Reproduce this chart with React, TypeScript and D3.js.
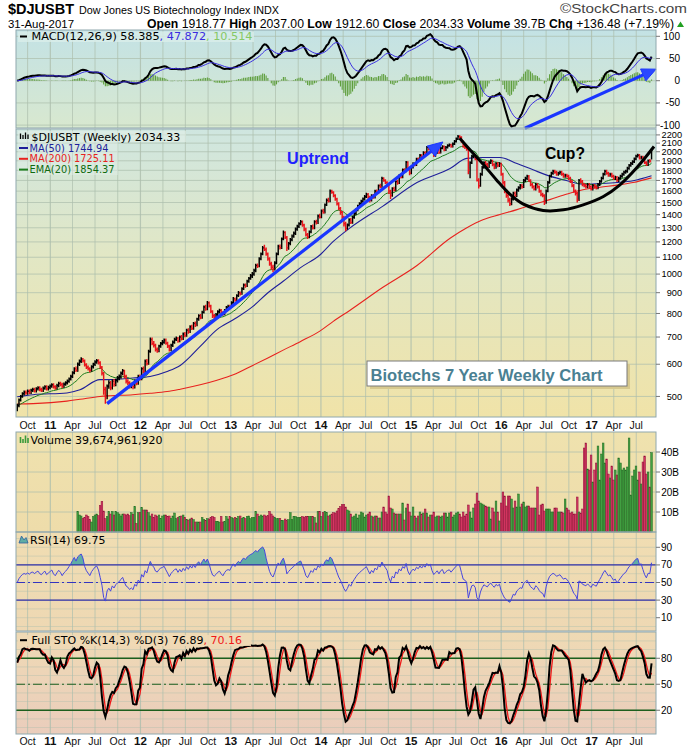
import React from "react";
import * as d3 from "d3";

// ---------------- DATA ----------------
const firstWeek = "2010-08-20"; // weekly bars, one per Friday

const weeklyClose = [475,490,500,508,512,510,
515,512,518,520,516,522,525,520,518,524,528,522,526,
530,534,528,525,532,538,535,530,536,540,545,552,560,
572,585,580,600,610,618,612,598,590,585,580,592,600,
608,612,605,590,570,520,498,530,540,525,545,535,548,
555,560,570,578,560,545,540,530,535,528,545,538,560,
552,585,576,610,602,645,690,675,668,652,648,665,675,
680,688,676,665,652,668,680,690,695,684,700,692,712,
705,728,720,742,735,756,748,775,790,781,805,830,820,
850,835,810,790,785,795,808,815,805,798,815,828,832,
830,850,870,862,885,900,895,920,940,935,960,975,990,
1000,1020,1050,1045,1090,1120,1160,1150,1120,1090,1060,1040,1030,
1065,1120,1170,1160,1220,1265,1230,1160,1190,1215,1240,1260,1290,
1310,1330,1345,1320,1290,1250,1235,1270,1310,1298,1345,1335,1390,
1380,1430,1418,1480,1520,1510,1600,1590,1560,1530,1490,1450,1420,
1380,1330,1295,1320,1360,1340,1380,1410,1440,1470,1490,1510,1530,
1550,1570,1545,1520,1560,1545,1600,1588,1650,1640,1720,1700,1680,
1660,1600,1560,1625,1608,1690,1672,1748,1730,1805,1790,1885,1810,
1770,1830,1870,1855,1920,1905,1960,1940,1990,1975,2050,2030,2060,
2000,1960,1990,2020,1990,2040,2060,2020,2050,2070,2080,2060,2090,
2120,2150,2180,2170,2120,2060,2050,2030,1800,1880,1950,1960,1920,
1700,1650,1760,1830,1880,1860,1840,1880,1900,1860,1830,1870,1850,
1870,1760,1680,1600,1560,1520,1490,1530,1580,1560,1610,1630,1650,
1640,1700,1720,1740,1700,1660,1640,1620,1660,1640,1600,1570,1560,
1500,1600,1680,1740,1770,1790,1780,1760,1770,1780,1760,1740,1750,
1740,1720,1690,1650,1600,1580,1520,1700,1690,1660,1650,1640,1660,
1640,1620,1650,1640,1630,1660,1690,1720,1760,1790,1770,1750,1760,
1740,1720,1730,1700,1720,1740,1760,1780,1790,1820,1850,1870,1890,
1920,1950,1960,1930,1940,1910,1880,1860,1900,1898,2034];

const weeklyHigh = [480,494,504,512,517,517,
520,520,522,525,525,527,530,530,525,529,533,533,531,
535,539,539,533,537,543,543,540,541,545,550,557,565,
577,590,592,606,616,624,622,616,603,596,590,597,605,
614,618,617,610,594,574,528,535,548,546,550,552,553,
561,566,576,584,582,565,551,545,540,540,550,551,565,
566,590,592,616,618,651,698,698,684,674,660,670,681,
688,694,694,682,670,674,686,697,702,700,706,708,718,
720,734,736,748,750,762,764,781,797,798,812,837,840,
858,856,840,815,798,802,815,822,820,810,820,835,840,
840,857,878,876,892,908,906,928,948,948,968,984,1000,
1012,1030,1060,1062,1100,1130,1172,1180,1162,1130,1100,1072,1055,
1075,1130,1180,1182,1230,1280,1275,1240,1200,1226,1252,1272,1302,
1322,1342,1358,1355,1330,1300,1262,1280,1320,1325,1356,1360,1402,
1408,1442,1448,1492,1534,1540,1615,1612,1600,1572,1540,1502,1462,
1430,1392,1345,1332,1372,1375,1392,1422,1452,1482,1503,1523,1544,
1565,1585,1582,1558,1572,1575,1612,1615,1662,1668,1735,1732,1712,
1692,1670,1612,1636,1640,1700,1706,1760,1765,1818,1822,1898,1895,
1822,1842,1885,1884,1934,1936,1975,1972,2005,2006,2065,2066,2075,
2070,2012,2005,2036,2032,2055,2076,2072,2066,2086,2096,2094,2106,
2138,2168,2200,2196,2182,2132,2078,2066,2040,1895,1965,1985,1975,
1930,1720,1775,1846,1896,1898,1878,1896,1916,1912,1875,1885,1886,
1885,1880,1775,1695,1620,1580,1540,1545,1595,1596,1625,1645,1665,
1665,1715,1736,1755,1752,1712,1675,1655,1675,1675,1652,1612,1585,
1572,1615,1695,1755,1786,1806,1805,1795,1786,1796,1795,1775,1765,
1765,1755,1735,1705,1665,1615,1592,1715,1720,1705,1676,1665,1675,
1675,1655,1665,1665,1655,1675,1705,1735,1775,1806,1805,1785,1775,
1775,1755,1746,1742,1735,1755,1776,1796,1806,1836,1866,1886,1906,
1936,1966,1978,1975,1956,1955,1925,1895,1915,1920,2037];

const weeklyLow = [460,470,486,496,503,505,
505,507,507,513,511,511,517,515,513,513,519,517,517,
521,525,523,519,520,527,530,524,525,531,535,540,547,
555,567,574,575,594,604,606,592,584,579,573,575,586,
594,602,599,584,563,505,480,492,522,518,520,528,530,
541,548,553,564,554,538,533,523,524,521,523,533,534,
547,548,570,572,596,598,640,668,660,645,640,642,659,
668,674,670,658,645,646,662,674,684,678,680,686,688,
699,701,713,716,728,730,741,744,768,774,776,800,812,
815,828,802,780,775,778,788,800,798,790,792,808,820,
820,825,843,855,856,878,886,890,914,926,930,952,968,
978,990,1010,1035,1040,1082,1112,1140,1110,1078,1048,1025,1010,
1020,1058,1112,1150,1152,1212,1220,1140,1148,1178,1205,1228,1248,
1278,1298,1318,1308,1275,1238,1220,1225,1260,1288,1290,1325,1328,
1370,1372,1408,1410,1470,1500,1502,1576,1545,1515,1475,1435,1400,
1360,1310,1275,1285,1310,1328,1330,1368,1398,1428,1458,1478,1498,
1518,1538,1532,1500,1508,1532,1535,1575,1578,1626,1630,1688,1665,
1640,1575,1530,1550,1596,1600,1660,1665,1718,1722,1778,1780,1795,
1750,1760,1818,1842,1845,1892,1895,1926,1930,1960,1965,2015,2020,
1982,1940,1945,1978,1975,1980,2028,2005,2008,2038,2058,2045,2048,
2078,2108,2138,2152,2105,2045,2032,2012,1760,1720,1865,1930,1905,
1690,1625,1640,1745,1815,1842,1822,1825,1865,1842,1810,1815,1832,
1835,1745,1660,1580,1540,1500,1470,1478,1518,1545,1548,1595,1615,
1622,1628,1685,1705,1685,1645,1625,1605,1605,1625,1585,1555,1545,
1480,1490,1590,1668,1728,1756,1765,1745,1745,1756,1745,1725,1726,
1725,1705,1675,1635,1585,1560,1500,1512,1672,1645,1635,1625,1626,
1625,1605,1606,1625,1615,1618,1648,1678,1708,1748,1755,1735,1736,
1725,1705,1705,1685,1686,1706,1726,1746,1766,1776,1806,1836,1856,
1876,1905,1936,1915,1915,1895,1865,1845,1846,1880,1913];

// weekly volume in billions; the series begins with week #35 (Apr 2011)
const volumeFirstWeek = 35;
const weeklyVolumeB = [10.3,8.5,8.0,6.7,7.3,8.5,7.8,6.2,5.0,7.8,8.5,9.0,8.2,
13.3,15.3,10.5,6.7,7.8,10.3,9.0,10.3,8.5,10.3,9.7,9.0,8.0,
9.0,9.0,8.5,9.0,8.2,9.7,8.8,12.8,4.3,9.7,9.7,12.3,11.0,
11.0,11.0,9.7,8.0,9.0,7.3,8.5,7.8,8.5,6.7,8.0,8.5,8.5,
7.8,8.0,6.7,8.0,9.5,6.7,7.3,7.8,8.0,8.5,7.3,6.2,6.0,
6.5,7.0,6.2,5.0,5.0,5.0,5.0,7.3,6.2,5.7,6.7,6.5,7.3,
7.8,7.3,5.3,5.3,5.0,7.8,5.0,5.3,7.8,6.5,7.8,7.3,6.7,
7.3,6.7,7.8,8.0,6.7,7.3,6.7,7.8,8.0,6.7,7.3,7.3,10.3,
9.0,7.8,8.5,8.0,8.5,7.8,8.2,10.3,9.0,8.0,7.3,6.7,6.7,
6.7,5.7,5.7,6.5,5.7,6.2,9.7,6.2,7.8,7.8,7.3,7.3,7.3,
7.8,7.3,7.8,7.8,7.8,7.8,7.8,7.3,4.5,10.3,10.3,7.8,9.7,
10.3,9.7,8.0,8.5,9.0,9.7,9.5,10.5,11.8,12.7,13.7,13.7,12.5,
11.0,10.5,9,7.5,8,9,7,8.5,10,9.5,7.5,8.5,9,
10,8,7.5,8,8,7,7,10,12.5,10,9,18,12,
11.5,9.5,9,9,9,9,14.5,6,12,14,10,8,12.5,
8,7,8,10,9,9.5,11.5,9.5,7.5,8.5,8.5,10,7.5,
8,8,7.5,8,9.5,9.5,7.5,9.5,10,7.5,8.5,9.5,10,
9,7.5,10,8,9,13.5,10,7,12,14,19.5,15.5,14.5,
14,13.5,13,12.5,12.5,6.5,12,10,15.5,10,5.5,14.5,20,
18,13,18,18,16.5,12,15.5,12.5,19,12.5,14,15,12.5,
13,13,12,12,12,12,22.5,8.5,13.5,14,10.5,11.5,11.5,
11.5,10,10,12,12,10,10,10,9.5,16.5,12,11,9.5,
10,9,9,17.5,10,9.5,11.5,
42,44.5,31.5,31,38.5,25,31,34.5,43,26,39,44.5,34.5,36.5,29,27,33,26,31,28.5,
37,34.5,31,32,31,32.5,47,18.5,28,31,33,26,30,24,35,38,29,30,22.5,39.7];

// moving averages
const maDates = ["2010-08-20","2010-10-23","2011-03-09","2011-05-01","2011-07-21","2011-08-31","2011-12-01","2012-02-09","2012-04-18","2012-06-10","2012-08-30","2012-11-06","2013-01-11","2013-04-02","2013-05-29","2013-08-01","2013-10-09","2013-12-29","2014-02-20","2014-04-29","2014-09-09","2015-01-25","2015-06-08","2015-08-15","2015-10-19","2015-12-27","2016-03-05","2016-05-09","2016-07-16","2016-09-24","2016-11-27","2017-02-05","2017-04-14","2017-06-18","2017-09-01"];
const ma50Values = [499,505,510,519,550,550,555,560,576,596,664,730,772,834,897,960,1036,1116,1203,1299,1470,1680,1818,1926,1935,1935,1870,1805,1742,1697,1663,1670,1680,1697,1745];
const ma200Values = [479,480,487,492,500,502,505,509,514,521,534,548,565,597,621,650,682,725,765,815,928,1050,1225,1300,1360,1401,1441,1483,1525,1574,1612,1636,1655,1680,1725];

// axis ticks
const priceTicks = [2200,2100,2000,1900,1800,1700,1600,1500,1400,1300,1200,1100,1000,900,800,700,600,500];
const macdTicks = [100,50,0,-50,-100];
const volumeTicks = [40,30,20,10];
const rsiTicks = [90,70,50,30,10];
const stoTicks = [80,50,20];

// hand-drawn annotations (in data space)
const cupDates = ["2015-07-17","2015-09-03","2015-10-20","2015-12-13","2016-02-05","2016-03-31","2016-06-19","2016-09-09","2016-11-28","2017-02-18","2017-04-26","2017-07-02","2017-09-11"];
const cupPrices = [2159,2002,1864,1705,1573,1486,1434,1439,1480,1552,1658,1823,2060];
const uptrendArrowDates = ["2011-08-19","2015-05-10"];
const uptrendArrowPrices = [480,2114];
const macdArrowDates = ["2016-04-06","2017-09-19"];
const macdArrowValues = [-107,26];

// header texts
const headerSymbol = "$DJUSBT";
const headerName = "Dow Jones US Biotechnology Index INDX";
const headerDate = "31-Aug-2017";
const headerQuote = [["Open","1918.77"],["High","2037.00"],["Low","1912.60"],["Close","2034.33"],["Volume","39.7B"],["Chg","+136.48 (+7.19%)"]];

// ---------------- helpers ----------------
const FONT_LEG = "'DejaVu Sans', Verdana, sans-serif";
const FONT_AX = "'Liberation Sans', Arial, Helvetica, sans-serif";
const FONT_NARROW = "'Liberation Sans Narrow', 'Arial Narrow', 'Liberation Sans', Arial, sans-serif";

function emaSeries(v: number[], n: number): number[] {
  const k = 2 / (n + 1);
  const out: number[] = [];
  v.forEach((val, i) => out.push(i === 0 ? val : val * k + out[i - 1] * (1 - k)));
  return out;
}
function smaSeries(v: number[], n: number): number[] {
  return v.map((_, i) => d3.mean(v.slice(Math.max(0, i - n + 1), i + 1)) as number);
}
function rsiSeries(c: number[], n: number, seed: number): number[] {
  const out: number[] = [50];
  let ag = seed, al = seed;
  for (let i = 1; i < c.length; i++) {
    const ch = c[i] - c[i - 1];
    ag = (ag * (n - 1) + Math.max(ch, 0)) / n;
    al = (al * (n - 1) + Math.max(-ch, 0)) / n;
    out.push(al === 0 ? 100 : 100 - 100 / (1 + ag / al));
  }
  return out;
}
function arrowPts(x1: number, y1: number, x2: number, y2: number, len: number, half: number) {
  const dx = x2 - x1, dy = y2 - y1, d = Math.hypot(dx, dy);
  const ux = dx / d, uy = dy / d;
  const bx = x2 - ux * len, by = y2 - uy * len;
  return { base: [bx, by], pts: `${x2},${y2} ${bx - uy * half},${by + ux * half} ${bx + uy * half},${by - ux * half}` };
}

export default function App() {
  const W = 700, H = 748, L = 16, R = 656;
  const P = {
    macd: { top: 30, bottom: 128 },
    price: { top: 129, bottom: 417 },
    vol: { top: 432, bottom: 532 },
    rsi: { top: 532, bottom: 631 },
    sto: { top: 632, bottom: 734 },
  };
  const parse = d3.timeParse("%Y-%m-%d");
  const t0 = parse(firstWeek) as Date;
  const n = Math.min(weeklyClose.length, weeklyHigh.length, weeklyLow.length);
  const close = weeklyClose.slice(0, n), high = weeklyHigh.slice(0, n), low = weeklyLow.slice(0, n);
  const dates = d3.range(n).map((i) => d3.timeDay.offset(t0, 7 * i));
  const up = close.map((c, i) => i === 0 || c >= close[i - 1]);

  const x = d3.scaleTime().domain([parse("2010-08-15") as Date, parse("2017-09-19") as Date]).range([L, R]);
  const yP = d3.scaleLog().domain([445, 2275]).range([P.price.bottom, P.price.top]);
  const yM = d3.scaleLinear().domain([-106.5, 114.2]).range([P.macd.bottom, P.macd.top]);
  const yV = d3.scaleLinear().domain([0, 50]).range([P.vol.bottom, P.vol.top]);
  const yR = d3.scaleLinear().domain([-5.1, 107.4]).range([P.rsi.bottom, P.rsi.top]);
  const yS = d3.scaleLinear().domain([-7.4, 110.3]).range([P.sto.bottom, P.sto.top]);

  // indicators computed from the weekly bars
  const ema20 = emaSeries(close, 20);
  const ema12 = emaSeries(close, 12), ema26 = emaSeries(close, 26);
  const macd = ema12.map((v, i) => v - ema26[i]);
  const signal = emaSeries(macd, 9);
  const hist = macd.map((v, i) => v - signal[i]);
  const rsi = rsiSeries(close, 14, 6);
  const fastK = close.map((c, i) => {
    const s = Math.max(0, i - 13);
    const hh = d3.max(high.slice(s, i + 1)) as number, ll = d3.min(low.slice(s, i + 1)) as number;
    return hh === ll ? 50 : ((c - ll) / (hh - ll)) * 100;
  });
  const fullK = smaSeries(fastK, 3);
  const fullD = smaSeries(fullK, 3);

  const idx = d3.range(n);
  const xi = (i: number) => x(dates[i]);
  const lineIdx = (yf: (i: number) => number) => d3.line<number>().x(xi).y(yf)(idx) || "";

  const maD = maDates.map((s) => parse(s) as Date);
  const maLine = (vals: number[]) =>
    d3.line<number>().x((i) => x(maD[i])).y((i) => yP(vals[i])).curve(d3.curveMonotoneX)(d3.range(vals.length)) || "";

  const quarters = x.ticks(d3.timeMonth.every(3) as any);
  const gridCol = "#aebfae";
  const panels = [P.macd, P.price, P.vol, P.rsi, P.sto];

  // price bars paths
  let blackPath = "", redPath = "";
  idx.forEach((i) => {
    const X = xi(i);
    const seg = `M${X},${yP(high[i])}V${yP(low[i])}M${X},${yP(close[i])}h1.4`;
    if (up[i]) blackPath += seg; else redPath += seg;
  });

  // RSI fills
  const rsiHigh = d3.area<number>().x(xi).y0(yR(70)).y1((i) => yR(Math.max(rsi[i], 70)))(idx) || "";
  const rsiLow = d3.area<number>().x(xi).y0(yR(30)).y1((i) => yR(Math.min(rsi[i], 30)))(idx) || "";
  const rsiPath = lineIdx((i) => yR(rsi[i]));

  // annotations
  const cupPath = d3.line<number>().x((i) => x(parse(cupDates[i]) as Date)).y((i) => yP(cupPrices[i])).curve(d3.curveCatmullRom.alpha(0.5))(d3.range(cupDates.length)) || "";
  const ua = [x(parse(uptrendArrowDates[0]) as Date), yP(uptrendArrowPrices[0]), x(parse(uptrendArrowDates[1]) as Date), yP(uptrendArrowPrices[1])];
  const uaHead = arrowPts(ua[0], ua[1], ua[2], ua[3], 15, 6.5);
  const ma = [x(parse(macdArrowDates[0]) as Date), yM(macdArrowValues[0]), x(parse(macdArrowDates[1]) as Date), yM(macdArrowValues[1])];
  const maHead = arrowPts(ma[0], ma[1], ma[2], ma[3], 14, 6.5);

  const quoteChildren: any[] = [];
  headerQuote.forEach(([k, v], i) => {
    quoteChildren.push(<tspan key={"k" + i} fontWeight="bold">{k}</tspan>);
    quoteChildren.push(<tspan key={"v" + i}>{" " + v + (i < headerQuote.length - 1 ? "  " : "")}</tspan>);
  });

  const axisLabel = (q: Date, y: number, key: string) => {
    const isYear = q.getMonth() === 0;
    return (
      <text key={key} x={x(q)} y={y} textAnchor="middle" fontFamily={FONT_AX} fontSize={isYear ? 11.5 : 10.5} fontWeight={isYear ? "bold" : "normal"} fill="#111">
        {isYear ? d3.timeFormat("%y")(q) : d3.timeFormat("%b")(q)}
      </text>
    );
  };

  return (
    <svg width={W} height={H} style={{ position: "absolute", left: 0, top: 0, background: "#fff" }}>
      <defs>
        <linearGradient id="gMacd" x1="0" y1="0" x2="0" y2="1">
          <stop offset="0" stopColor="#c3e2e5" /><stop offset="1" stopColor="#d8e8cf" />
        </linearGradient>
        <linearGradient id="gPrice" x1="0" y1="0" x2="0" y2="1">
          <stop offset="0" stopColor="#cfe6e0" /><stop offset="0.45" stopColor="#e2e7c4" /><stop offset="1" stopColor="#f0e3a8" />
        </linearGradient>
        <linearGradient id="gVol" x1="0" y1="0" x2="0" y2="1">
          <stop offset="0" stopColor="#efe2ae" /><stop offset="1" stopColor="#eedcaa" />
        </linearGradient>
        <linearGradient id="gRsi" x1="0" y1="0" x2="0" y2="1">
          <stop offset="0" stopColor="#f0ddb2" /><stop offset="1" stopColor="#eed8b3" />
        </linearGradient>
        <linearGradient id="gSto" x1="0" y1="0" x2="0" y2="1">
          <stop offset="0" stopColor="#efdab4" /><stop offset="1" stopColor="#eacdbc" />
        </linearGradient>
      </defs>

      {/* header */}
      <text x={8} y={14} fontFamily={FONT_NARROW} fontWeight="bold" fontSize={15} textLength={66} lengthAdjust="spacingAndGlyphs">{headerSymbol}</text>
      <text x={79} y={13.5} fontFamily={FONT_NARROW} fontSize={11} textLength={200} lengthAdjust="spacingAndGlyphs">{headerName}</text>
      <text x={560} y={12.5} fontFamily={FONT_NARROW} fontSize={12} fill="#444" textLength={127} lengthAdjust="spacingAndGlyphs">©StockCharts.com</text>
      <text x={8} y={27.5} fontFamily={FONT_NARROW} fontSize={11} textLength={66} lengthAdjust="spacingAndGlyphs">{headerDate}</text>
      <text x={147} y={27.5} fontFamily={FONT_NARROW} fontSize={12} textLength={527} lengthAdjust="spacingAndGlyphs">{quoteChildren}</text>
      <polygon points="677,27 684,27 680.5,21.5" fill="#22a022" />

      {/* panel backgrounds */}
      <rect x={L} y={P.macd.top} width={R - L} height={P.macd.bottom - P.macd.top} fill="url(#gMacd)" />
      <rect x={L} y={P.price.top} width={R - L} height={P.price.bottom - P.price.top} fill="url(#gPrice)" />
      <rect x={L} y={P.vol.top} width={R - L} height={P.vol.bottom - P.vol.top} fill="url(#gVol)" />
      <rect x={L} y={P.rsi.top} width={R - L} height={P.rsi.bottom - P.rsi.top} fill="url(#gRsi)" />
      <rect x={L} y={P.sto.top} width={R - L} height={P.sto.bottom - P.sto.top} fill="url(#gSto)" />

      {/* vertical grid */}
      {panels.map((p, pi) =>
        quarters.map((q, qi) => (
          <line key={`vg${pi}-${qi}`} x1={x(q)} x2={x(q)} y1={p.top} y2={p.bottom} stroke={gridCol} strokeWidth={q.getMonth() === 0 ? 1.2 : 0.9} opacity={0.8} />
        ))
      )}
      {/* horizontal grids */}
      {macdTicks.map((t) => <line key={"hm" + t} x1={L} x2={R} y1={yM(t)} y2={yM(t)} stroke={gridCol} strokeWidth={0.9} opacity={0.8} />)}
      {priceTicks.map((t) => <line key={"hp" + t} x1={L} x2={R} y1={yP(t)} y2={yP(t)} stroke={gridCol} strokeWidth={0.9} opacity={0.8} />)}
      {volumeTicks.map((t) => <line key={"hv" + t} x1={L} x2={R} y1={yV(t)} y2={yV(t)} stroke={gridCol} strokeWidth={0.9} opacity={0.8} />)}
      {d3.range(0, 101, 10).map((t) => <line key={"hr" + t} x1={L} x2={R} y1={yR(t)} y2={yR(t)} stroke={gridCol} strokeWidth={0.7} opacity={0.6} />)}
      {d3.range(0, 101, 10).map((t) => <line key={"hs" + t} x1={L} x2={R} y1={yS(t)} y2={yS(t)} stroke={gridCol} strokeWidth={0.7} opacity={0.6} />)}

      {/* MACD */}
      {idx.map((i) => <line key={"h" + i} x1={xi(i)} x2={xi(i)} y1={yM(0)} y2={yM(hist[i])} stroke="#5e9e3c" strokeWidth={1.1} />)}
      <path d={lineIdx((i) => yM(macd[i]))} fill="none" stroke="#000" strokeWidth={2} />
      <path d={lineIdx((i) => yM(signal[i]))} fill="none" stroke="#3a2ee0" strokeWidth={1} />

      {/* price */}
      <path d={maLine(ma200Values)} fill="none" stroke="#e8221e" strokeWidth={1.1} />
      <path d={maLine(ma50Values)} fill="none" stroke="#1f1f9a" strokeWidth={1.1} />
      <path d={lineIdx((i) => yP(ema20[i]))} fill="none" stroke="#1d7d1d" strokeWidth={1} />
      <path d={blackPath} fill="none" stroke="#000" strokeWidth={1.45} />
      <path d={redPath} fill="none" stroke="#e8141b" strokeWidth={1.45} />

      {/* volume */}
      {idx.filter((i) => i >= volumeFirstWeek && i - volumeFirstWeek < weeklyVolumeB.length).map((i) => {
        const v = weeklyVolumeB[i - volumeFirstWeek];
        return <rect key={"v" + i} x={xi(i) - 0.85} width={1.7} y={yV(v)} height={yV(0) - yV(v)}
          fill={up[i] ? "#41a041" : "#d43762"} stroke={up[i] ? "#236a23" : "#8f1038"} strokeWidth={0.5} />;
      })}

      {/* RSI */}
      <path d={rsiHigh} fill="#5fada4" stroke="none" />
      <path d={rsiLow} fill="#5fada4" stroke="none" />
      <line x1={L} x2={R} y1={yR(70)} y2={yR(70)} stroke="#2f2fa8" strokeWidth={1.3} />
      <line x1={L} x2={R} y1={yR(30)} y2={yR(30)} stroke="#2f2fa8" strokeWidth={1.3} />
      <line x1={L} x2={R} y1={yR(50)} y2={yR(50)} stroke="#3434c0" strokeWidth={1.2} strokeDasharray="9,3,2,3" />
      <path d={rsiPath} fill="none" stroke="#4646e0" strokeWidth={1} />

      {/* STO */}
      <line x1={L} x2={R} y1={yS(80)} y2={yS(80)} stroke="#1d5e1d" strokeWidth={1.3} />
      <line x1={L} x2={R} y1={yS(20)} y2={yS(20)} stroke="#1d5e1d" strokeWidth={1.3} />
      <line x1={L} x2={R} y1={yS(50)} y2={yS(50)} stroke="#1d5e1d" strokeWidth={1.2} strokeDasharray="9,3,2,3" />
      <path d={lineIdx((i) => yS(fullD[i]))} fill="none" stroke="#f01818" strokeWidth={1.3} />
      <path d={lineIdx((i) => yS(fullK[i]))} fill="none" stroke="#000" strokeWidth={2} />

      {/* annotations */}
      <line x1={ua[0]} y1={ua[1]} x2={uaHead.base[0]} y2={uaHead.base[1]} stroke="#1a36ff" strokeWidth={3.2} />
      <polygon points={uaHead.pts} fill="#2a48ff" stroke="#1a36ff" strokeWidth={1} />
      <line x1={ma[0]} y1={ma[1]} x2={maHead.base[0]} y2={maHead.base[1]} stroke="#1a36ff" strokeWidth={3.2} />
      <polygon points={maHead.pts} fill="#2a48ff" stroke="#1a36ff" strokeWidth={1} />
      <path d={cupPath} fill="none" stroke="#000" strokeWidth={3} />
      <text x={287} y={164} fontFamily={FONT_AX} fontWeight="bold" fontSize={16.5} fill="#1f22ff" textLength={62} lengthAdjust="spacingAndGlyphs">Uptrend</text>
      <text x={545} y={159} fontFamily={FONT_AX} fontWeight="bold" fontSize={16.5} fill="#000" textLength={40} lengthAdjust="spacingAndGlyphs">Cup?</text>
      <rect x={370} y={364} width={260} height={25} fill="#d7c98e" />
      <rect x={367} y={361} width={260} height={25} fill="#fff" stroke="#7a7a7a" strokeWidth={1} />
      <text x={370.5} y={381} fontFamily={FONT_AX} fontWeight="bold" fontSize={16.5} fill="#4a8092" textLength={232} lengthAdjust="spacingAndGlyphs">Biotechs 7 Year Weekly Chart</text>

      {/* legends */}
      <rect x={18} y={31.5} width={236} height={10.5} fill="#d9eeea" opacity={0.8} />
      <line x1={20} x2={27} y1={36.5} y2={36.5} stroke="#000" strokeWidth={2} />
      <text x={31.5} y={40.3} fontFamily={FONT_LEG} fontSize={10.6} textLength={221} lengthAdjust="spacingAndGlyphs">MACD(12,26,9) 58.385<tspan fill="#3a2ee0">, 47.872</tspan><tspan fill="#86c866">, 10.514</tspan></text>

      <rect x={18} y={131} width={168} height={11} fill="#e2f0e8" opacity={0.6} />
      <rect x={18} y={142} width={100} height={33} fill="#e2f0e8" opacity={0.45} />
      <path d="M20.5,139V133.5M23,139V135M25.5,139V132.5M28,139V134.5" stroke="#000" strokeWidth={1.3} />
      <text x={31.5} y={140.5} fontFamily={FONT_LEG} fontSize={11}>$DJUSBT (Weekly) 2034.33</text>
      <line x1={19} x2={28} y1={148} y2={148} stroke="#1f1f9a" strokeWidth={2} />
      <text x={29.5} y={151.6} fontFamily={FONT_LEG} fontSize={9.8} fill="#1f1f9a">MA(50) 1744.94</text>
      <line x1={19} x2={28} y1={158.8} y2={158.8} stroke="#e8221e" strokeWidth={2} />
      <text x={29.5} y={162.4} fontFamily={FONT_LEG} fontSize={9.8} fill="#e8221e">MA(200) 1725.11</text>
      <line x1={19} x2={28} y1={169.6} y2={169.6} stroke="#1d7d1d" strokeWidth={2} />
      <text x={29.5} y={173.2} fontFamily={FONT_LEG} fontSize={9.8} fill="#0f6a0f">EMA(20) 1854.37</text>

      <path d="M20.5,443V437M23,443V439M25.5,443V435.5M28,443V438" stroke="#3a9a3a" strokeWidth={1.6} />
      <text x={30.5} y={443.5} fontFamily={FONT_LEG} fontSize={11}>Volume 39,674,961,920</text>

      <path d="M19,543 L21.5,536 L24,540 L26,537.5 L28,543 Z" fill="#5fada4" stroke="#2f5fa0" strokeWidth={0.8} />
      <text x={30} y={544} fontFamily={FONT_LEG} fontSize={11}>RSI(14) 69.75</text>

      <rect x={18} y={635} width={233} height={11} fill="#efd9b5" opacity={0.9} />
      <line x1={20} x2={27} y1={640.2} y2={640.2} stroke="#000" strokeWidth={2} />
      <text x={31.5} y={644} fontFamily={FONT_LEG} fontSize={11}>Full STO %K(14,3) %D(3) 76.89<tspan fill="#f01818">, 70.16</tspan></text>

      {/* panel borders */}
      {panels.map((p, pi) => <rect key={"b" + pi} x={L} y={p.top} width={R - L} height={p.bottom - p.top} fill="none" stroke="#8fa8ae" strokeWidth={1} />)}

      {/* right axes */}
      {macdTicks.map((t) => <g key={"am" + t}><line x1={R} x2={R + 4} y1={yM(t)} y2={yM(t)} stroke="#777" /><text x={680} y={yM(t) + 3.5} textAnchor="end" fontFamily={FONT_AX} fontSize={10}>{t}</text></g>)}
      {priceTicks.map((t) => <g key={"ap" + t}><line x1={R} x2={R + 4} y1={yP(t)} y2={yP(t)} stroke="#777" /><text x={682} y={yP(t) + 3.2} textAnchor="end" fontFamily={FONT_AX} fontSize={9.2}>{t}</text></g>)}
      {volumeTicks.map((t) => <g key={"av" + t}><line x1={R} x2={R + 4} y1={yV(t)} y2={yV(t)} stroke="#777" /><text x={679} y={yV(t) + 3.5} textAnchor="end" fontFamily={FONT_AX} fontSize={10}>{t + "B"}</text></g>)}
      {rsiTicks.map((t) => <g key={"ar" + t}><line x1={R} x2={R + 4} y1={yR(t)} y2={yR(t)} stroke="#777" /><text x={661} y={yR(t) + 3.5} fontFamily={FONT_AX} fontSize={10}>{t}</text></g>)}
      {stoTicks.map((t) => <g key={"as" + t}><line x1={R} x2={R + 4} y1={yS(t)} y2={yS(t)} stroke="#777" /><text x={661} y={yS(t) + 3.5} fontFamily={FONT_AX} fontSize={10}>{t}</text></g>)}

      {/* bottom axes */}
      {quarters.map((q, qi) => axisLabel(q, 429, "xa" + qi))}
      {quarters.map((q, qi) => axisLabel(q, 745, "xb" + qi))}
    </svg>
  );
}
